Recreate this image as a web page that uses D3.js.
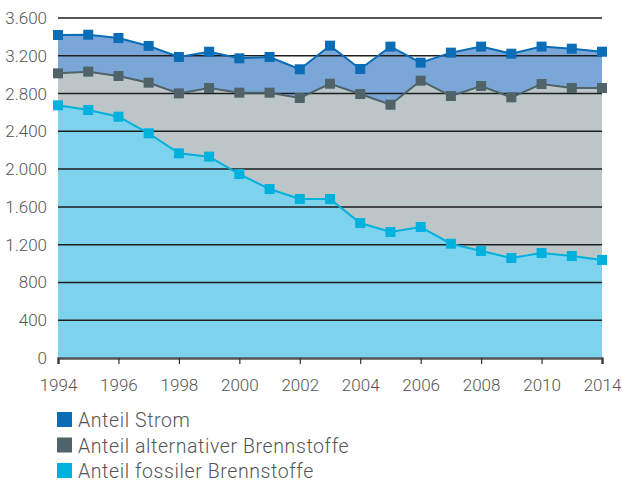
<!DOCTYPE html>
<html>
<head>
<meta charset="utf-8">
<script src="https://cdn.jsdelivr.net/npm/d3@7"></script>
<style>
body{margin:0;background:#fff;}
text{font-family:Roboto,"DejaVu Sans",sans-serif;font-weight:300;fill:#555;}
</style>
</head>
<body>
<svg id="chart" width="622" height="483"></svg>
<script>
// Jahre (Kategorienachse, nur jede zweite beschriftet)
var years = ["1994","1995","1996","1997","1998","1999","2000","2001","2002","2003","2004","2005","2006","2007","2008","2009","2010","2012","2014"];
// Anteile (gestapelt)
var fossil = [2675,2626,2555,2379,2167,2132,1948,1789,1683,1683,1429,1334,1387,1210,1133,1059,1112,1080,1038];
var alternativ = [339,406,431,536,635,727,861,1020,1070,1221,1366,1348,1549,1564,1747,1701,1789,1779,1821];
var strom = [406,391,402,389,385,384,364,378,304,403,265,615,191,459,417,462,396,416,384];
var yTicks = [0,400,800,1200,1600,2000,2400,2800,3200,3600];

var legendNames = ["Anteil Strom","Anteil alternativer Brennstoffe","Anteil fossiler Brennstoffe"];
var lineColors = {fossil:"#00b1dd",alternativ:"#4f6369",strom:"#0a6db6"};
var areaColors = {fossil:"#7dd3ee",alternativ:"#bcc6c8",strom:"#7ba6d8"};

var svg = d3.select("#chart");
var pLeft=58, pRight=602, pTop=18, pBottom=358;

var x = d3.scalePoint().domain(years).range([pLeft,pRight]);
var y = d3.scaleLinear().domain([0,3600]).range([pBottom,pTop]);

var table = years.map(function(yr,i){ return {year:yr,fossil:fossil[i],alternativ:alternativ[i],strom:strom[i]}; });
var keys = ["fossil","alternativ","strom"];
var stacked = d3.stack().keys(keys)(table);

var area = d3.area().x(function(d){return x(d.data.year);}).y0(function(d){return y(d[0]);}).y1(function(d){return y(d[1]);});
var line = d3.line().x(function(d){return x(d.data.year);}).y(function(d){return y(d[1]);});

// flächen
svg.selectAll("path.area").data(stacked).enter().append("path")
    .attr("class","area").attr("d",area)
    .style("fill",function(s){return areaColors[s.key];});

// gitterlinien
svg.selectAll("line.grid").data(yTicks.filter(function(t){return t>0;})).enter().append("line")
    .attr("class","grid")
    .attr("x1",pLeft).attr("x2",pRight)
    .attr("y1",function(t){return y(t);}).attr("y2",function(t){return y(t);})
    .style("stroke","#1e1e1e").style("stroke-width",1.5);

// x-achse
var fmtY = function(v){ return d3.format(",")(v).replace(/,/g,"."); };
var xAxis = d3.axisBottom(x).tickValues(years.filter(function(d,i){return i%2==0;})).tickSize(6).tickPadding(15);
var gx = svg.append("g").attr("transform","translate(0,"+pBottom+")").call(xAxis);
gx.select(".domain").style("stroke","#555").style("stroke-width",2.5);
gx.selectAll(".tick line").style("stroke","#333").style("stroke-width",1.2);
gx.selectAll(".tick text").style("font-size","17px").style("font-family","Roboto, sans-serif").attr("fill","#555");

// y-beschriftung
var yAxis = d3.axisLeft(y).tickValues(yTicks).tickSize(0).tickPadding(11).tickFormat(fmtY);
var gy = svg.append("g").attr("transform","translate("+pLeft+",0)").call(yAxis);
gy.select(".domain").remove();
gy.selectAll(".tick text").style("font-size","17px").style("font-family","Roboto, sans-serif").attr("fill","#555");

// linien und marker
stacked.forEach(function(s){
    svg.append("path").datum(s).attr("d",line)
        .style("fill","none").style("stroke",lineColors[s.key]).style("stroke-width",2);
    svg.selectAll("rect.m-"+s.key).data(s).enter().append("rect")
        .attr("class","m-"+s.key)
        .attr("x",function(d){return x(d.data.year)-5;})
        .attr("y",function(d){return y(d[1])-5;})
        .attr("width",10).attr("height",10)
        .style("fill",lineColors[s.key]);
});

// legende
var legendKeys = ["strom","alternativ","fossil"];
var lg = svg.append("g").attr("transform","translate(57,412)");
legendKeys.forEach(function(k,i){
    lg.append("rect").attr("x",0).attr("y",i*25.5).attr("width",15).attr("height",15).style("fill",lineColors[k]);
    lg.append("text").attr("x",21).attr("y",i*25.5+15).style("font-size","19.5px").style("letter-spacing","0.6px").text(legendNames[i]);
});
</script>
</body>
</html>
